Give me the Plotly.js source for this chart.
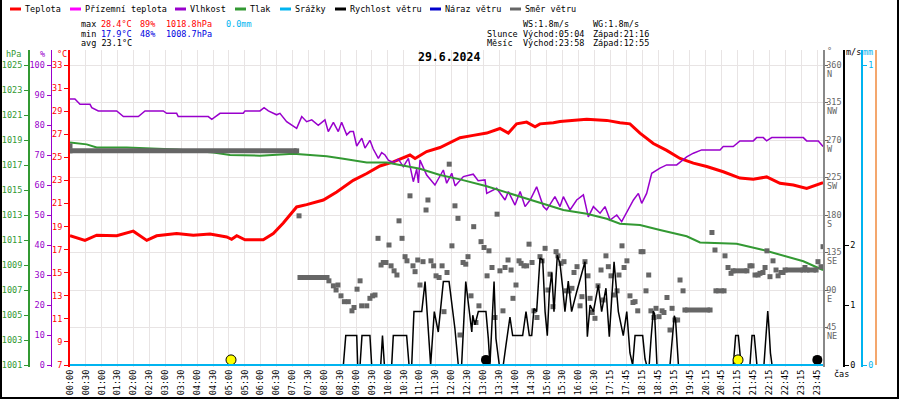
<!DOCTYPE html>
<html><head><meta charset="utf-8">
<script src="https://cdn.plot.ly/plotly-3.0.1.min.js"></script>
<style>html,body{margin:0;padding:0;background:#fff}#c{width:900px;height:400px}</style>
</head><body><div id="c"></div>
<script>
// ---------- DATA (x = position in half-hour label slots) ----------
const tickLabels = ["00:00","00:30","01:00","01:30","02:00","02:30","03:00","03:30","04:00","04:30","05:00","05:30","06:00","06:30","07:00","07:30","08:00","08:30","09:00","09:30","10:00","10:30","11:00","11:30","12:00","12:30","13:00","13:30","14:00","14:30","15:00","15:30","16:00","16:30","17:15","17:45","18:15","18:45","19:15","19:45","20:15","20:45","21:15","21:45","22:15","22:45","23:15","23:45"];

const tempData = [[0,18.2],[0.94,17.8],[1.68,18.25],[2.94,18.2],[3.98,18.6],[4.83,17.8],[5.45,18.2],[6.71,18.4],[7.76,18.25],[8.81,18.35],[9.86,18.1],[10.17,17.9],[10.49,18.2],[11.01,17.85],[12.16,17.85],[12.79,18.4],[13.42,19.3],[14.26,20.7],[14.89,20.9],[15.94,21.3],[16.78,22.0],[17.82,23.0],[18.67,23.6],[19.50,24.25],[20.34,24.6],[21.39,25.2],[21.71,24.9],[22.44,25.5],[23.28,25.85],[24.54,26.7],[25.37,26.9],[26.22,27.1],[27.05,27.5],[27.58,27.1],[28.10,27.9],[28.73,28.05],[29.26,27.65],[29.57,27.9],[30.41,28.0],[30.83,28.1],[32.51,28.3],[33.77,28.2],[34.60,28.0],[35.23,27.9],[35.86,27.1],[36.70,26.2],[37.54,25.6],[38.38,24.9],[39.22,24.5],[40.06,24.2],[41.10,23.75],[42.15,23.2],[42.99,23.1],[43.83,23.3],[44.67,22.75],[45.51,22.6],[46.35,22.3],[47.19,22.7],[47.38,22.8]];

const humData = [[0,88.7],[0.31,88.7],[0.63,86.9],[1.26,86.9],[1.37,85.8],[1.78,84.7],[2.94,84.7],[3.36,82.8],[4.30,82.8],[4.72,84.7],[5.87,84.7],[6.08,83.9],[6.71,83.9],[6.81,82.8],[8.70,82.8],[8.92,81.9],[9.44,83.9],[10.90,83.9],[11.01,84.7],[11.95,84.7],[12.21,85.8],[12.48,84.7],[13.00,83.4],[13.21,83.9],[13.63,81.1],[14.26,78.9],[14.58,82.8],[14.89,81.1],[15.21,81.7],[15.62,79.9],[16.04,81.7],[16.25,77.8],[16.57,80.9],[16.88,77.8],[17.09,80.9],[17.41,76.7],[17.62,77.8],[17.83,77.8],[18.04,73.0],[18.36,75.6],[18.56,72.3],[18.87,74.9],[19.08,72.0],[19.40,68.9],[19.61,70.8],[19.82,70.0],[20.03,68.3],[20.34,67.5],[20.66,68.6],[20.97,66.1],[21.29,68.9],[21.60,61.1],[21.81,65.3],[21.92,60.7],[22.02,68.3],[22.44,63.3],[22.96,60.0],[23.28,63.3],[23.49,65.0],[23.70,60.6],[24.02,63.9],[24.23,59.7],[24.75,62.8],[25.37,63.6],[25.68,61.4],[26.11,61.7],[26.22,57.2],[26.84,58.9],[27.05,57.2],[27.37,55.0],[27.58,57.8],[28.00,53.3],[28.32,57.8],[28.63,52.8],[28.95,55.0],[29.36,59.4],[29.78,52.8],[29.99,51.7],[30.51,56.1],[30.83,52.8],[31.04,56.1],[31.46,51.7],[31.88,55.0],[32.30,56.7],[32.61,49.4],[32.93,52.8],[33.35,50.6],[33.66,52.8],[33.98,48.3],[34.40,50.0],[34.71,47.8],[35.03,51.1],[35.45,55.0],[35.76,57.2],[35.97,53.9],[36.28,57.2],[36.60,63.9],[37.12,65.6],[37.54,66.7],[38.17,66.7],[38.80,69.4],[39.22,70.6],[39.74,71.7],[40.90,71.7],[41.10,72.8],[41.73,72.8],[42.15,74.7],[42.99,74.7],[43.20,75.8],[43.62,75.8],[43.83,74.7],[44.15,75.8],[46.14,75.8],[46.35,74.7],[47.08,74.7],[47.38,72.8]];

const pressData = [[0,1018.8],[1.05,1018.65],[1.68,1018.4],[3.57,1018.4],[6.71,1018.25],[9.02,1018.0],[10.07,1017.8],[11.95,1017.75],[14.05,1017.9],[15.31,1017.8],[16.15,1017.7],[17.20,1017.5],[18.67,1017.2],[19.93,1017.2],[20.76,1017.0],[22.02,1016.7],[23.28,1016.2],[24.54,1015.85],[26.22,1015.3],[27.47,1014.8],[28.94,1014.2],[31.04,1013.4],[32.51,1013.1],[33.77,1012.7],[34.60,1012.3],[35.86,1012.2],[37.12,1011.8],[38.80,1011.3],[39.64,1010.8],[41.94,1010.7],[43.62,1010.2],[45.09,1009.7],[46.14,1009.3],[47.19,1008.7],[47.38,1008.6]];

const precipData = [[0,0],[47.38,0]];

const windData = [[0,0],[17.20,0],[17.35,0.49],[18.04,0.49],[18.10,0],[18.25,0],[18.37,0.49],[18.87,0.49],[18.98,0],[19.55,0],[19.66,0.49],[19.78,0],[20.24,0],[20.34,0.49],[21.18,0.49],[21.33,0],[21.50,0],[21.64,0.89],[22.13,0.89],[22.34,1.39],[22.69,0],[22.92,0.89],[23.17,0.55],[23.49,1.39],[23.85,1.39],[24.22,0.6],[24.43,0],[24.64,0],[24.90,1.39],[25.28,0.55],[25.34,0.83],[25.48,0.67],[25.69,0.89],[26.17,0.89],[26.32,0.44],[26.42,0],[26.68,1.39],[26.80,0.44],[27.01,0],[27.26,0],[27.43,0.33],[27.68,0.8],[27.85,0.49],[28.48,0.49],[28.69,0.89],[28.90,0.49],[29.05,0.49],[29.19,0.94],[29.36,0.89],[29.57,1.78],[29.74,1.75],[29.89,0.89],[30.03,0.49],[30.16,1.22],[30.31,1.54],[30.45,0.89],[30.66,1.83],[30.83,1.69],[31.00,1.28],[31.14,0.89],[31.35,1.4],[31.56,0.89],[31.88,1.22],[32.09,1.42],[32.40,1.72],[32.55,0.47],[32.72,1.0],[32.93,0.89],[33.24,1.33],[33.45,0.89],[33.72,1.28],[33.93,0.47],[34.23,1.72],[34.50,0.89],[34.81,0.49],[35.03,0.89],[35.23,0.2],[35.40,0],[35.55,0.49],[36.03,0.49],[36.18,0.1],[36.28,0],[36.44,0],[36.56,0.45],[36.65,0.8],[36.70,0.9],[36.78,0.85],[36.84,0.45],[36.93,0],[37.75,0],[37.88,0.45],[37.97,0.8],[38.02,0.82],[38.10,0.75],[38.19,0.4],[38.28,0],[41.73,0],[41.84,0.3],[41.88,0.49],[42.05,0.49],[42.15,0.2],[42.22,0],[42.78,0],[42.88,0.3],[42.91,0.49],[43.05,0.49],[43.13,0.2],[43.22,0],[43.66,0],[43.79,0.45],[43.90,0.9],[43.98,0.6],[44.07,0.2],[44.17,0],[47.38,0]];

// wind direction: runs of equal readings [from, to, deg] and single readings [x, deg]
const dirRuns = [[0,14.26,257],[14.47,16.17,105],[38.69,40.27,66],[40.64,41.15,89],[41.71,42.59,113],[44.99,46.12,114],[46.37,46.94,114]];
const dirPoints = [[0,263],[14.41,179],[16.29,101],[16.57,95],[16.74,90],[16.86,96],[17.05,83],[17.26,76],[17.51,76],[17.74,65],[17.87,69],[18.06,91],[18.25,101],[18.35,71],[18.67,71],[18.87,80],[19.04,83],[19.19,84],[19.38,152],[19.57,120],[19.71,123],[19.88,123],[20.07,144],[20.20,119],[20.39,113],[20.57,108],[20.70,173],[20.89,152],[21.08,130],[21.20,125],[21.39,203],[21.58,119],[21.71,112],[21.88,126],[22.02,96],[22.21,124],[22.40,186],[22.52,198],[22.71,125],[22.88,119],[23.03,107],[23.22,105],[23.41,119],[23.53,64],[23.72,111],[23.86,241],[24.03,143],[24.22,191],[24.41,176],[24.54,36],[24.73,123],[24.90,121],[25.04,130],[25.23,83],[25.40,166],[25.54,51],[25.73,71],[25.86,148],[26.05,141],[26.24,107],[26.36,137],[26.55,117],[26.74,57],[26.87,181],[27.05,113],[27.24,65],[27.37,117],[27.56,126],[27.75,114],[27.87,80],[28.06,96],[28.25,125],[28.38,122],[28.56,119],[28.73,119],[28.88,145],[29.07,123],[29.19,65],[29.38,57],[29.57,130],[29.70,125],[29.89,140],[30.07,90],[30.20,109],[30.39,70],[30.58,136],[30.70,131],[30.89,122],[31.08,124],[31.21,89],[31.40,89],[31.58,92],[31.71,111],[31.90,118],[32.09,71],[32.21,82],[32.40,124],[32.59,107],[32.72,80],[32.86,63],[33.03,56],[33.22,95],[33.41,114],[33.54,78],[33.72,131],[33.87,118],[34.04,107],[34.23,84],[34.42,89],[34.54,108],[34.73,143],[34.86,117],[35.04,125],[35.23,83],[35.42,75],[35.55,76],[35.72,65],[35.93,136],[36.05,136],[36.24,89],[36.41,108],[36.55,65],[36.74,57],[36.87,68],[37.06,58],[37.25,65],[37.37,63],[37.56,81],[37.75,42],[37.88,68],[38.06,54],[38.23,54],[38.38,102],[38.57,89],[40.39,159],[40.58,138],[41.21,131],[41.40,117],[41.59,110],[42.78,119],[42.91,119],[43.10,108],[43.29,108],[43.41,110],[43.60,111],[43.73,117],[43.85,137],[44.04,106],[44.23,125],[44.42,114],[44.55,107],[44.73,111],[44.86,111],[46.24,117],[47.06,124],[47.25,118],[47.38,142]];

const sunX = [10.13, 42.03];   // východ 05:04, západ 21:16
const moonX = [26.17, 47.02];  // západ 12:55, východ 23:58

const tempTicks = [7,9,11,13,15,17,19,21,23,25,27,29,31,33];
const humTicks = [0,10,20,30,40,50,60,70,80,90,100];
const pressTicks = [1001,1003,1005,1007,1009,1011,1013,1015,1017,1019,1021,1023,1025];
const dirTicks = [45,90,135,180,225,270,315,360];
const dirLetters = ["NE","E","SE","S","SW","W","NW","N"];
const windTicks = [0,1,2];
const rainTicks = [0,1];

const legendNames = ["Teplota","Přízemní teplota","Vlhkost","Tlak","Srážky","Rychlost větru","Náraz větru","Směr větru"];

// ---------- STYLE ----------
const C = {red:'#ff0000', mag:'#ff00ff', pur:'#9900cc', grn:'#339933', cyan:'#00b4f0', blk:'#000000', blue:'#0000cc', gray:'#666666', orange:'#f08a3c', minblue:'#0000e0', grid:'#e8e4e4'};
const legendColors = [C.red,C.mag,C.pur,C.grn,C.cyan,C.blk,C.blue,C.gray];
const legendPx = [10,70,175,235,280,335,430,510];
const MONO = 'DejaVu Sans Mono';
const FS = 8.5;

// plot area 70..823 x 50..367 ; paper 5..880
function PX(x){return (x-5)/875;}
function PY(y){return (367-y)/317;}
const col = (a,i)=>a.map(r=>r[i]);

const dirRunX=[], dirRunY=[];
dirRuns.forEach(r=>{dirRunX.push(r[0],r[1],null); dirRunY.push(r[2],r[2],null);});

const traces = [
 {x:dirRunX, y:dirRunY, yaxis:'y4', mode:'lines+markers', line:{color:C.gray,width:5}, marker:{symbol:'square',size:5,color:C.gray}, hoverinfo:'skip'},
 {x:col(dirPoints,0), y:col(dirPoints,1), yaxis:'y4', mode:'markers', marker:{symbol:'square',size:5,color:C.gray}},
 {x:[null], y:[null], yaxis:'y5', mode:'markers'},
 {x:col(pressData,0), y:col(pressData,1), yaxis:'y3', mode:'lines', line:{color:C.grn,width:2}},
 {x:col(humData,0), y:col(humData,1), yaxis:'y2', mode:'lines', line:{color:C.pur,width:1.5}},
 {x:col(tempData,0), y:col(tempData,1), yaxis:'y', mode:'lines', line:{color:C.red,width:3}},
 {x:col(precipData,0), y:col(precipData,1), yaxis:'y7', mode:'lines', line:{color:C.cyan,width:2}},
 {x:col(windData,0), y:col(windData,1), yaxis:'y6', mode:'lines', line:{color:C.blk,width:1.5}},
 {x:sunX, y:sunX.map(()=>0.085), yaxis:'y6', mode:'markers', marker:{size:10,color:'#ffff00',line:{color:'#000',width:1}}, cliponaxis:false},
 {x:moonX, y:moonX.map(()=>0.085), yaxis:'y6', mode:'markers', marker:{size:10,color:'#000'}, cliponaxis:false}
];

function yax(o){
  return Object.assign({showgrid:false, zeroline:false, showline:true, linewidth:1.5, ticks:'outside', ticklen:4, tickwidth:1, fixedrange:true,
    tickfont:{family:MONO,size:FS,color:o.c}, linecolor:o.c, tickcolor:o.c, tickmode:'array'}, o.a);
}

const annotations = [];
function ann(text,x,y,color,extra){
  annotations.push(Object.assign({text:text, x:PX(x), y:PY(y), xref:'paper', yref:'paper', showarrow:false, xanchor:'left', yanchor:'middle', borderpad:0,
    font:{family:MONO,size:FS,color:color}}, extra||{}));
}
const shapes = [];
legendNames.forEach((n,i)=>{
  shapes.push({type:'line', xref:'paper', yref:'paper', x0:PX(legendPx[i]), x1:PX(legendPx[i]+11), y0:PY(9), y1:PY(9), line:{color:legendColors[i],width:3}});
  ann(n, legendPx[i]+14, 9, '#000');
});
ann('max',80,24,'#000'); ann('28.4°C',100,24,C.red); ann('89%',139,24,C.red); ann('1018.8hPa',165,24,C.red); ann('0.0mm',225,24,C.cyan);
ann('min',80,34,'#000'); ann('17.9°C',100,34,C.minblue); ann('48%',139,34,C.minblue); ann('1008.7hPa',165,34,C.minblue);
ann('avg 23.1°C',80,43.5,'#000');
ann('WS:1.8m/s',522,24,'#000'); ann('WG:1.8m/s',592,24,'#000');
ann('Slunce',486,34,'#000'); ann('Východ:05:04',522,34,'#000'); ann('Západ:21:16',592,34,'#000');
ann('Měsíc',486,43.5,'#000'); ann('Východ:23:58',522,43.5,'#000'); ann('Západ:12:55',592,43.5,'#000');
ann('<b>29.6.2024</b>',449,57,'#000',{xanchor:'center', font:{family:MONO,size:11.5,color:'#000'}});
ann('hPa',5,54,C.grn); ann('%',39,54,C.pur); ann('°C',56,54,C.red);
ann('°',826,51,C.gray); ann('m/s',845,52,C.blk); ann('mm',862,52,C.cyan);
ann('čas',833,374,'#000');

shapes.push({type:'line', xref:'paper', yref:'paper', x0:PX(876), x1:PX(876), y0:PY(50), y1:PY(365), line:{color:C.orange,width:1.5}});
shapes.push({type:'line', xref:'paper', yref:'paper', x0:PX(1), x1:PX(1), y0:PY(0), y1:PY(398), line:{color:'#000',width:2}});
shapes.push({type:'line', xref:'paper', yref:'paper', x0:PX(898), x1:PX(898), y0:PY(0), y1:PY(398), line:{color:'#000',width:2}});
shapes.push({type:'line', xref:'paper', yref:'paper', x0:PX(0), x1:PX(899), y0:PY(398), y1:PY(398), line:{color:'#000',width:2}});

const layout = {
  width:900, height:400, margin:{l:5,r:20,t:50,b:33,pad:0}, paper_bgcolor:'#fff', plot_bgcolor:'#fff',
  showlegend:false, font:{family:MONO,size:FS},
  xaxis:{domain:[PX(70),PX(823)], range:[0,47.376], tickmode:'array', tickvals:tickLabels.map((_,i)=>i), ticktext:tickLabels, tickangle:-90,
    tickfont:{family:MONO,size:FS,color:'#000'}, showgrid:true, gridcolor:C.grid, gridwidth:1, zeroline:false, showline:false, ticks:'', fixedrange:true},
  yaxis: yax({c:C.red, a:{range:[6.8267,34.301], tickvals:tempTicks, linewidth:2}}),
  yaxis2: yax({c:C.pur, a:{overlaying:'y', anchor:'free', position:PX(50.5), side:'left', range:[-0.667,105], tickvals:humTicks}}),
  yaxis3: yax({c:C.grn, a:{overlaying:'y', anchor:'free', position:PX(28), side:'left', range:[1000.84,1026.2], tickvals:pressTicks}}),
  yaxis4: yax({c:C.gray, a:{overlaying:'y', anchor:'x', side:'right', range:[-2.4,378], tickvals:dirTicks, ticktext:dirTicks.map(String), showgrid:true, gridcolor:C.grid, linecolor:'#888', ticklen:3, ticklabelstandoff:-3}}),
  yaxis5: yax({c:C.gray, a:{overlaying:'y', anchor:'x', side:'right', range:[-2.4,378], tickvals:dirTicks, ticktext:dirLetters, showline:false, ticks:'', ticklabelshift:9, ticklabelstandoff:3}}),
  yaxis6: yax({c:C.blk, a:{overlaying:'y', anchor:'free', position:PX(843), side:'right', range:[-0.0333,5.25], tickvals:windTicks}}),
  yaxis7: yax({c:C.cyan, a:{overlaying:'y', anchor:'free', position:PX(861), side:'right', range:[-0.00667,1.05], tickvals:rainTicks}}),
  annotations:annotations, shapes:shapes
};
Plotly.newPlot('c', traces, layout, {displayModeBar:false, staticPlot:true});
</script></body></html>
